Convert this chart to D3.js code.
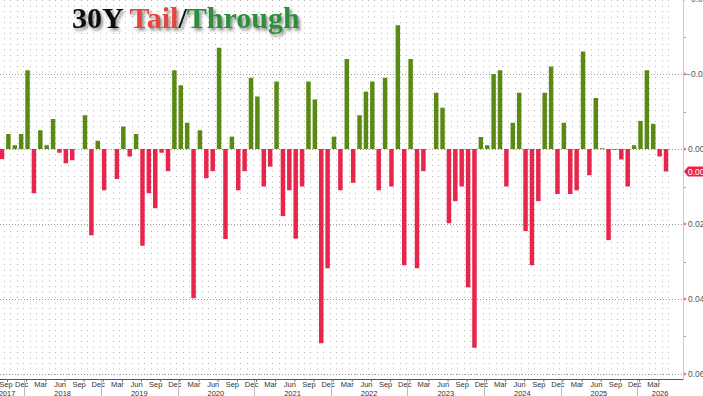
<!DOCTYPE html>
<html>
<head>
<meta charset="utf-8">
<script src="https://cdn.jsdelivr.net/npm/d3@7"></script>
<style>
  html, body { margin: 0; padding: 0; background: #fff; overflow: hidden; }
  svg { display: block; }
</style>
</head>
<body>
<svg id="chart"></svg>
<script>
// 30Y auction tail (+) / through (-), monthly from Sep 2017
const firstMonth = new Date(2017, 8, 1);
const lastMonth = new Date(2026, 4, 1);
const tail = [
  0.0027, -0.004, -0.001, -0.004, -0.021, 0.0118, -0.005, -0.001, -0.008, 0.001,
  0.0038, 0.003, 0, -0.009, 0.023, -0.0022, 0.011, 0, 0.008, -0.006,
  0.002, -0.004, 0.0258, 0.0118, 0.0158, 0.001, 0.0059, -0.021, -0.017, -0.007,
  0.0398, -0.005, 0.0078, 0.0059, -0.027, 0.024, -0.0033, 0.011, 0.0059, -0.019,
  -0.014, 0.010, 0.0047, -0.018, 0.0179, 0.011, 0.0239, 0.010, -0.018, -0.0132,
  0.0518, 0.0318, -0.0033, 0.011, -0.024, 0.009, -0.009, -0.0153, -0.018, 0.011,
  -0.019, 0.010, -0.033, 0.031, -0.024, 0.0318, 0.0059, 0, -0.015, -0.011,
  0.0198, 0.0139, 0.010, 0.0369, 0.053, -0.0032, -0.001, -0.020, -0.021, 0.010,
  -0.007, -0.015, 0.0219, 0.031, 0.0139, -0.015, -0.022, 0.012, -0.007, 0.012,
  0.011, -0.026, 0.007, -0.0136, -0.0002, 0.0243, 0.0002, 0.0028, 0.010, -0.001,
  -0.0075, -0.021, -0.0067, 0.002, 0.006
];
const monthTicks = ["Sep", "Dec", "Mar", "Jun"];
const years = [2017, 2018, 2019, 2020, 2021, 2022, 2023, 2024, 2025, 2026];
const yMajor = [-0.04, -0.02, 0, 0.02, 0.04, 0.06];
const yMinor = [-0.03, -0.01, 0.01, 0.03, 0.05];
const lastLabel = "0.006";

const W = 703, H = 396;
const axisX = 683, axisY = 379;
const RED = "#e8254b", GREEN = "#5b8a14", PINK = "#e07a9a";
const FONT = "'Liberation Sans Narrow','Arial Narrow','Liberation Sans',sans-serif";

const months = d3.timeMonth.range(firstMonth, d3.timeMonth.offset(lastMonth, 1));
const data = months.map((m, i) => ({ m, v: tail[i] }));
const fmtM = d3.timeFormat("%b");

const x = d3.scaleBand().domain(months).range([-1.2, 669.2]).paddingInner(0.3).paddingOuter(0.15);
const cx = m => x(m) + x.bandwidth() / 2;
const y = d3.scaleLinear().domain([-0.04, 0.06]).range([-1, 374]);

const svg = d3.select("#chart").attr("width", W).attr("height", H);

const defs = svg.append("defs");
const f = defs.append("filter").attr("id", "shadow").attr("x", "-10%").attr("y", "-30%").attr("width", "130%").attr("height", "170%");
f.append("feDropShadow").attr("dx", 2).attr("dy", 2.5).attr("stdDeviation", 1.6)
  .attr("flood-color", "#000").attr("flood-opacity", 0.45);

// dotted vertical grid
svg.append("g").selectAll("line").data(months).join("line")
  .attr("x1", d => Math.round(cx(d) + 2) + 0.5).attr("x2", d => Math.round(cx(d) + 2) + 0.5)
  .attr("y1", 0).attr("y2", axisY)
  .attr("stroke", "#b4b4b4").attr("stroke-width", 1)
  .attr("stroke-dasharray", "1,4.5");

// horizontal grid at majors
svg.append("g").selectAll("line").data(yMajor).join("line")
  .attr("x1", 0).attr("x2", axisX)
  .attr("y1", d => Math.round(y(d)) + 0.5).attr("y2", d => Math.round(y(d)) + 0.5)
  .attr("stroke", "#999").attr("stroke-dasharray", "1,2");

// bars
svg.append("g").selectAll("rect").data(data.filter(d => d.v !== 0)).join("rect")
  .attr("x", d => x(d.m))
  .attr("width", x.bandwidth())
  .attr("y", d => Math.min(y(0), y(d.v)))
  .attr("height", d => Math.max(0.8, Math.abs(y(d.v) - y(0))))
  .attr("fill", d => d.v > 0 ? RED : GREEN);

// x axis
svg.append("line").attr("x1", 0).attr("x2", axisX).attr("y1", axisY + 0.5).attr("y2", axisY + 0.5)
  .attr("stroke", "#555");

const quarterMonths = months.filter(m => monthTicks.includes(fmtM(m)));
svg.append("g").selectAll("line").data(quarterMonths).join("line")
  .attr("x1", d => cx(d) + 5.5).attr("x2", d => cx(d) + 5.5)
  .attr("y1", axisY + 1).attr("y2", axisY + 3)
  .attr("stroke", "#777");

svg.append("g").selectAll("text").data(quarterMonths).join("text")
  .attr("x", (d, i) => i === 0 ? 6 : cx(d) + 0.5)
  .attr("y", 387)
  .attr("text-anchor", "middle")
  .style("font-family", FONT).style("font-size", "7.5px").style("fill", "#333")
  .text(d => fmtM(d));

// year separators and labels
const decs = months.filter(m => m.getMonth() === 11);
const sepX = decs.map(m => cx(m) + x.step() / 2);
svg.append("g").selectAll("line").data(sepX).join("line")
  .attr("x1", d => Math.round(d) + 0.5).attr("x2", d => Math.round(d) + 0.5)
  .attr("y1", axisY + 1).attr("y2", H)
  .attr("stroke", "#bbb");

const bounds = [0, ...sepX, axisX];
svg.append("g").selectAll("text").data(years).join("text")
  .attr("x", (d, i) => i === 0 ? 7 : (bounds[i] + bounds[i + 1]) / 2)
  .attr("y", 395.5)
  .attr("text-anchor", "middle")
  .style("font-family", FONT).style("font-size", "7.5px").style("fill", "#333")
  .text(d => d);

// right axis
svg.append("line").attr("x1", axisX + 0.5).attr("x2", axisX + 0.5).attr("y1", 0).attr("y2", axisY + 1)
  .attr("stroke", "#eab8c8");

svg.append("g").selectAll("path").data(yMajor).join("path")
  .attr("d", d => `M${axisX + 1},${y(d) - 1.8}L${axisX + 4},${y(d)}L${axisX + 1},${y(d) + 1.8}Z`)
  .attr("fill", PINK);

svg.append("g").selectAll("line").data(yMinor).join("line")
  .attr("x1", axisX + 1).attr("x2", axisX + 3)
  .attr("y1", d => Math.round(y(d)) + 0.5).attr("y2", d => Math.round(y(d)) + 0.5)
  .attr("stroke", PINK);

svg.append("g").selectAll("text").data(yMajor).join("text")
  .attr("x", d => d < 0 ? 686 : 688)
  .attr("y", d => y(d) + 3)
  .style("font-family", FONT).style("font-size", "8.5px").style("fill", "#555")
  .text(d => d3.format(".2f")(d));

// last value tag
const lastV = tail[tail.length - 1];
const ty = y(lastV);
svg.append("path")
  .attr("d", `M${axisX + 1},${ty}L${axisX + 5},${ty - 5}L${W + 4},${ty - 5}L${W + 4},${ty + 5}L${axisX + 5},${ty + 5}Z`)
  .attr("fill", RED);
svg.append("text")
  .attr("x", axisX + 5).attr("y", ty + 3)
  .style("font-family", FONT).style("font-size", "8.5px").style("fill", "#fff")
  .text(lastLabel);

// title
const title = svg.append("text")
  .attr("x", 72).attr("y", 28)
  .attr("filter", "url(#shadow)")
  .style("font-family", "'Liberation Serif','Times New Roman',serif")
  .style("font-size", "30px").style("font-weight", "bold");
title.append("tspan").attr("fill", "#111").text("30Y ");
title.append("tspan").attr("fill", "#e5473f").text("Tail");
title.append("tspan").attr("fill", "#111").text("/");
title.append("tspan").attr("fill", "#2f8f3a").text("Through");
</script>
</body>
</html>
